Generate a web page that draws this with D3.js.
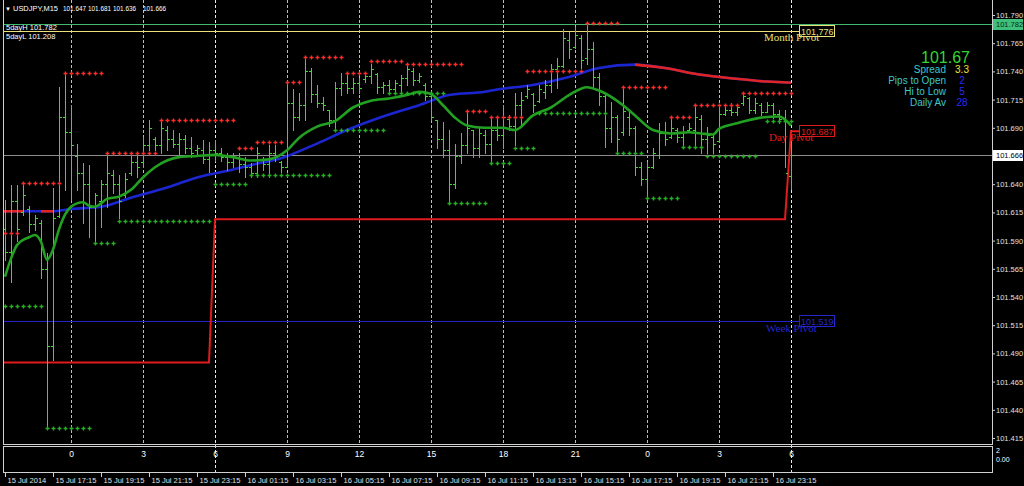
<!DOCTYPE html>
<html><head><meta charset="utf-8"><title>USDJPY M15</title>
<script src="https://cdn.jsdelivr.net/npm/d3@7/dist/d3.min.js"></script>
<style>
html,body{margin:0;padding:0;background:#000;overflow:hidden}
svg{display:block;background:#000}
</style></head><body>
<svg id="chart" width="1024" height="486"></svg>
<script>
// ================= DATA =================
const symbol = "USDJPY,M15";
const firstBarTime = "2014-07-15 15:15";
const lastBarTime  = "2014-07-17 00:00";

const openP = [
101.600,101.580,101.625,101.615,101.618,101.605,101.606,101.565,101.497,101.612,
101.700,101.686,101.665,101.650,101.640,101.620,101.625,101.640,101.648,101.640,
101.630,101.650,101.660,101.660,101.675,101.680,101.675,101.688,101.680,101.676,
101.680,101.672,101.670,101.670,101.662,101.670,101.668,101.664,101.660,101.664,
101.658,101.655,101.650,101.662,101.658,101.668,101.660,101.655,101.712,101.700,
101.710,101.740,101.720,101.712,101.706,101.697,101.725,101.730,101.725,101.730,
101.733,101.736,101.738,101.726,101.728,101.724,101.728,101.734,101.740,101.732,
101.728,101.718,101.697,101.680,101.670,101.640,101.665,101.675,101.688,101.672,
101.684,101.676,101.688,101.684,101.698,101.692,101.710,101.718,101.720,101.714,
101.722,101.728,101.742,101.745,101.768,101.762,101.770,101.752,101.760,101.735,
101.718,101.690,101.700,101.686,101.700,101.690,101.655,101.645,101.655,101.666,
101.685,101.682,101.688,101.682,101.688,101.688,101.698,101.680,101.682,101.678,
101.702,101.706,101.704,101.712,101.716,101.706,101.710,101.704,101.710,101.702,
101.698,101.647];
const highP = [
101.626,101.639,101.639,101.640,101.621,101.613,101.608,101.579,101.637,101.726,
101.737,101.710,101.676,101.659,101.657,101.632,101.644,101.666,101.653,101.648,
101.650,101.666,101.668,101.682,101.697,101.682,101.695,101.692,101.688,101.685,
101.684,101.682,101.675,101.679,101.677,101.679,101.672,101.668,101.668,101.668,
101.664,101.659,101.673,101.664,101.675,101.675,101.661,101.730,101.724,101.721,
101.752,101.743,101.728,101.717,101.706,101.731,101.739,101.739,101.734,101.734,
101.739,101.747,101.739,101.731,101.732,101.732,101.737,101.747,101.743,101.739,
101.730,101.719,101.697,101.695,101.688,101.676,101.685,101.704,101.688,101.691,
101.688,101.700,101.700,101.710,101.701,101.721,101.722,101.728,101.721,101.728,
101.732,101.747,101.752,101.778,101.775,101.779,101.772,101.781,101.766,101.739,
101.719,101.713,101.701,101.725,101.704,101.692,101.660,101.660,101.672,101.694,
101.695,101.699,101.690,101.692,101.694,101.708,101.701,101.691,101.685,101.710,
101.708,101.712,101.710,101.721,101.717,101.716,101.712,101.713,101.712,101.706,
101.706,101.681];
const lowP = [
101.573,101.553,101.590,101.613,101.598,101.599,101.557,101.424,101.484,101.611,
101.635,101.626,101.635,101.606,101.593,101.589,101.602,101.620,101.632,101.610,
101.629,101.648,101.646,101.655,101.670,101.670,101.668,101.670,101.673,101.666,
101.668,101.664,101.666,101.659,101.651,101.661,101.661,101.653,101.655,101.651,
101.646,101.646,101.646,101.653,101.646,101.661,101.651,101.655,101.688,101.697,
101.697,101.713,101.708,101.706,101.692,101.688,101.719,101.721,101.721,101.721,
101.731,101.730,101.721,101.721,101.721,101.721,101.721,101.728,101.728,101.731,
101.715,101.697,101.672,101.664,101.623,101.637,101.659,101.668,101.664,101.664,
101.668,101.659,101.679,101.672,101.688,101.675,101.692,101.716,101.704,101.713,
101.716,101.722,101.725,101.744,101.752,101.761,101.743,101.747,101.725,101.710,
101.673,101.677,101.668,101.684,101.684,101.648,101.639,101.628,101.654,101.663,
101.675,101.681,101.677,101.675,101.686,101.675,101.668,101.668,101.668,101.677,
101.701,101.701,101.701,101.710,101.703,101.703,101.701,101.704,101.699,101.694,
101.655,101.636];
const closeP = [
101.580,101.625,101.600,101.630,101.605,101.610,101.565,101.497,101.610,101.700,
101.686,101.675,101.650,101.640,101.620,101.630,101.640,101.650,101.640,101.625,
101.645,101.660,101.655,101.675,101.690,101.675,101.690,101.680,101.676,101.680,
101.672,101.668,101.672,101.662,101.670,101.668,101.664,101.660,101.664,101.658,
101.655,101.650,101.668,101.658,101.668,101.664,101.655,101.712,101.700,101.710,
101.740,101.720,101.712,101.710,101.697,101.725,101.730,101.725,101.730,101.725,
101.736,101.742,101.726,101.728,101.724,101.730,101.734,101.742,101.732,101.736,
101.718,101.700,101.680,101.670,101.640,101.665,101.675,101.690,101.672,101.685,
101.676,101.688,101.684,101.700,101.692,101.710,101.715,101.724,101.710,101.724,
101.728,101.742,101.745,101.770,101.760,101.772,101.750,101.760,101.735,101.718,
101.690,101.700,101.680,101.705,101.690,101.655,101.645,101.655,101.668,101.685,
101.680,101.690,101.682,101.686,101.690,101.700,101.680,101.684,101.676,101.702,
101.706,101.704,101.708,101.718,101.706,101.712,101.704,101.710,101.702,101.698,
101.650,101.666];

// resistance (red +) and support (green +) levels: bar index ranges
const resFrom  = [0,3,10,17,26,39,42,47,50,57,61,67,77,81,87,97,103,111,115,123];
const resTo    = [2,9,16,25,38,41,46,49,56,60,66,76,80,86,96,102,110,114,122,131];
const resLevel = [101.597,101.641,101.739,101.668,101.697,101.672,101.677,101.731,101.753,101.739,
                  101.749,101.747,101.705,101.700,101.740,101.783,101.726,101.700,101.710,101.721];
const supFrom  = [0,7,15,19,35,41,55,64,74,81,85,89,102,107,113,117,127];
const supTo    = [6,14,18,34,40,54,63,73,80,84,88,100,106,112,116,125,131];
const supLevel = [101.532,101.424,101.588,101.607,101.640,101.648,101.688,101.721,101.623,101.659,
                  101.672,101.703,101.668,101.628,101.673,101.665,101.696];

// fast MA (green) read at bar indices
const smaIdx = [0,1,2,4,5,6,7,8,9,10,11,12,13,14,15,16,17,19,21,23,25,27,29,32,35,38,41,44,47,49,52,55,58,61,64,67,69,71,73,75,77,80,83,85,88,91,94,97,99,103,105,108,111,114,116,118,119,122,126,129,131];
const smaVal = [101.558,101.574,101.586,101.593,101.595,101.589,101.573,101.582,101.600,101.613,101.620,101.623,101.624,101.621,101.620,101.623,101.627,101.629,101.635,101.646,101.655,101.661,101.664,101.665,101.666,101.664,101.661,101.662,101.670,101.681,101.691,101.696,101.708,101.714,101.716,101.719,101.722,101.720,101.710,101.699,101.692,101.690,101.690,101.688,101.701,101.708,101.719,101.726,101.723,101.710,101.701,101.688,101.685,101.686,101.685,101.684,101.689,101.694,101.699,101.700,101.692];

// slow MA (blue rising / red falling) read at bar indices
const maIdx = [0,3,6,8,11,16,21,27,32,38,41,46,52,57,63,69,74,80,82,88,94,99,105,110,116,121,127,131];
const maVal = [101.616,101.616,101.616,101.616,101.618,101.620,101.628,101.637,101.646,101.653,101.657,101.663,101.676,101.688,101.700,101.710,101.719,101.722,101.724,101.728,101.735,101.743,101.746,101.743,101.737,101.734,101.731,101.730];
const maDownFrom = [0,6,105];
const maDownTo   = [3,8,131];

// day pivot per day (bar index ranges)
const dayFrom = [0,35,131];
const dayTo   = [34,130,131];
const dayPivot = [101.482,101.609,101.687];
const monthPivot = 101.776;
const weekPivot  = 101.519;
const fiveDayH = 101.782;
const fiveDayL = 101.208;

// price axis ticks
const priceTicks = [101.790,101.765,101.740,101.715,101.690,101.640,101.615,101.590,101.565,101.540,101.515,101.490,101.465,101.440,101.415];

// hour marks (indicator sub-window) and their labels
const hourMarks = ["2014-07-15 18:00","2014-07-15 21:00","2014-07-16 00:00","2014-07-16 03:00","2014-07-16 06:00","2014-07-16 09:00","2014-07-16 12:00","2014-07-16 15:00","2014-07-16 18:00","2014-07-16 21:00","2014-07-17 00:00"];
const hourLabels = ["0","3","6","9","12","15","18","21","0","3","6"];
const daySeparators = ["2014-07-16 00:00","2014-07-17 00:00"];

// time axis labels
const timeTicks = ["2014-07-15 15:15","2014-07-15 17:15","2014-07-15 19:15","2014-07-15 21:15","2014-07-15 23:15",
 "2014-07-16 01:15","2014-07-16 03:15","2014-07-16 05:15","2014-07-16 07:15","2014-07-16 09:15","2014-07-16 11:15",
 "2014-07-16 13:15","2014-07-16 15:15","2014-07-16 17:15","2014-07-16 19:15","2014-07-16 21:15","2014-07-16 23:15"];

// info panel
const infoLabels = ["Spread","Pips to Open","Hi to Low","Daily Av"];
const infoValues = ["3.3","2","5","28"];
const infoColors = ["#e8e23a","#2a2aff","#2a2aff","#2a2aff"];

// ================= DRAW =================
const parse = d3.timeParse("%Y-%m-%d %H:%M");
const t0 = parse(firstBarTime), t1 = parse(lastBarTime);
const n = closeP.length;
const barTime = d3.range(n).map(i => d3.timeMinute.offset(t0, 15*i));

const x = d3.scaleTime().domain([t0, t1]).range([5, 791]);
const y = d3.scaleLinear().domain([101.415, 101.790]).range([438, 15]);
const xi = i => Math.round(x(barTime[i]));
const F = '"Liberation Sans", Arial, sans-serif';
const SERIF = '"Liberation Serif","Times New Roman",serif';

const svg = d3.select("#chart");
svg.append("defs").append("clipPath").attr("id","clipMain")
  .append("rect").attr("x",4).attr("y",0).attr("width",988).attr("height",444);

// vertical dashed hour lines
const gGrid = svg.append("g");
hourMarks.forEach(s => {
  const xx = Math.round(x(parse(s))) + 0.5;
  const isDay = daySeparators.includes(s);
  gGrid.append("line").attr("x1",xx).attr("x2",xx).attr("y1",0).attr("y2", isDay ? 473 : 444)
    .attr("stroke", isDay ? "#e8e8e8" : "#bdbdbd").attr("stroke-width",1).attr("stroke-dasharray","3,2");
});

const g = svg.append("g").attr("clip-path","url(#clipMain)");

// horizontal levels
const hline = (v, col, x1, x2, w) => g.append("line")
  .attr("x1",x1).attr("x2",x2).attr("y1",Math.round(y(v))+0.5).attr("y2",Math.round(y(v))+0.5)
  .attr("stroke",col).attr("stroke-width",w||1);
hline(closeP[n-1], "#8c8c8c", 4, 992);
hline(fiveDayH, "#45b870", 4, 992);
hline(monthPivot, "#ece07a", 4, 799);
hline(weekPivot, "#2222c8", 4, 799);

// day pivot step line
const dayPts = [];
dayFrom.forEach((f,k) => { for (let i=f;i<=dayTo[k];i++) dayPts.push([xi(i), y(dayPivot[k])]); });
dayPts.unshift([3, y(dayPivot[0])]);
dayPts.push([799, y(dayPivot[dayPivot.length-1])]);
g.append("path").attr("d", d3.line()(dayPts)).attr("fill","none").attr("stroke","#e01b1b").attr("stroke-width",2);

// slow MA (blue/red)
const maPts = maIdx.map((i,k)=>[xi(i), y(maVal[k])]);
maPts[0][0] = 3;
const maLine = d3.line().curve(d3.curveMonotoneX);
g.append("path").attr("d", maLine(maPts)).attr("fill","none").attr("stroke","#1c26d0").attr("stroke-width",2.6);
maDownFrom.forEach((f,k)=>{
  const pts = maIdx.map((i,j)=>[i,j]).filter(([i])=>i>=f && i<=maDownTo[k]).map(([i,j])=>[j===0?3:xi(i), y(maVal[j])]);
  g.append("path").attr("d", maLine(pts)).attr("fill","none").attr("stroke","#e02424").attr("stroke-width",2.6);
});

// OHLC bars
const gb = g.append("g").attr("stroke","#3fd82c").attr("stroke-width",1).attr("fill","none").attr("shape-rendering","crispEdges");
for (let i=0;i<n;i++){
  const xx = xi(i)+0.5;
  const yo = Math.round(y(openP[i]))+0.5, yc = Math.round(y(closeP[i]))+0.5;
  gb.append("path").attr("d",
    `M${xx},${Math.round(y(highP[i]))}V${Math.round(y(lowP[i]))+1}M${xx-2.5},${yo}H${xx}M${xx},${yc}H${xx+2.5}`);
}

// fast MA (green)
const smaPts = smaIdx.map((i,k)=>[xi(i), y(smaVal[k])]);
g.append("path").attr("d", d3.line().curve(d3.curveMonotoneX)(smaPts)).attr("fill","none")
  .attr("stroke","#22a022").attr("stroke-width",2.6);

// plus markers
const plus = (gp, xx, yy) => gp.append("path")
  .attr("d", `M${xx-1.5},${yy+0.5}H${xx+2.5}M${xx+0.5},${yy-1.5}V${yy+2.5}`);
const gr = g.append("g").attr("stroke","#ff2a2a").attr("stroke-width",1.4);
resFrom.forEach((f,k)=>{ for(let i=f;i<=resTo[k];i++) plus(gr, xi(i), Math.round(y(resLevel[k]))); });
const gs = g.append("g").attr("stroke","#22b022").attr("stroke-width",1.4);
supFrom.forEach((f,k)=>{ for(let i=f;i<=supTo[k];i++) plus(gs, xi(i), Math.round(y(supLevel[k]))); });

// pivot labels and boxes
const pivotLabel = (v, name, col, tx, dy) => {
  const yy = y(v);
  g.append("text").attr("x",tx).attr("y",yy+dy).attr("fill",col)
    .style("font-family",SERIF).style("font-size","11px").text(name);
  g.append("rect").attr("x",799.5).attr("y",Math.round(yy)-5.5).attr("width",35).attr("height",11)
    .attr("fill","none").attr("stroke",col).attr("stroke-width",1);
  g.append("text").attr("x",801).attr("y",Math.round(yy)+3.5).attr("fill",col)
    .style("font-family",F).style("font-size","9px").text(d3.format(".3f")(v));
};
pivotLabel(monthPivot, "Month Pivot", "#ece07a", 764, 10);
pivotLabel(dayPivot[dayPivot.length-1], "Day Pivot", "#e01b1b", 769, 10);
pivotLabel(weekPivot, "Week Pivot", "#2626cc", 766, 11);

// header text
const f3 = d3.format(".3f");
const hdr = svg.append("g").attr("fill","#ffffff").style("font-family",F).style("font-size","7.5px");
hdr.append("text").attr("x",5).attr("y",11).style("font-size","6px").text("▼");
hdr.append("text").attr("x",13).attr("y",11).attr("textLength",45).attr("lengthAdjust","spacingAndGlyphs").text(symbol);
[[63,openP[n-1]],[88,highP[n-1]],[113,lowP[n-1]],[143,closeP[n-1]]].forEach(([xx,v])=>
  hdr.append("text").attr("x",xx).attr("y",11).attr("textLength",23).attr("lengthAdjust","spacingAndGlyphs").text(f3(v)));
hdr.append("text").attr("x",6).attr("y",30).text("5dayH " + f3(fiveDayH));
hdr.append("text").attr("x",6).attr("y",39).text("5dayL " + f3(fiveDayL));

// info panel
const info = svg.append("g").style("font-family",F);
info.append("text").attr("x",970).attr("y",63).attr("text-anchor","end").attr("fill","#33d633")
  .style("font-size","16px").text(d3.format(".2f")(closeP[n-1]));
infoLabels.forEach((lab,k)=>{
  const yy = 73 + k*11;
  info.append("text").attr("x",946).attr("y",yy).attr("text-anchor","end").attr("fill","#3cc8cc")
    .style("font-size","10px").text(lab);
  info.append("text").attr("x",962).attr("y",yy).attr("text-anchor","middle").attr("fill",infoColors[k])
    .style("font-size","10px").text(infoValues[k]);
});

// frames
svg.append("rect").attr("x",3.5).attr("y",-1).attr("width",989).attr("height",445.5)
  .attr("fill","none").attr("stroke","#d0d0d0");
svg.append("rect").attr("x",3.5).attr("y",446.5).attr("width",989).attr("height",26)
  .attr("fill","none").attr("stroke","#d0d0d0");

// price axis
const ya = svg.append("g").attr("transform","translate(992,0)")
  .call(d3.axisRight(y).tickValues(priceTicks).tickSize(3).tickPadding(1).tickFormat(f3));
ya.select(".domain").remove();
ya.selectAll("line").attr("stroke","#d0d0d0");
ya.selectAll("text").attr("fill","#e0e0e0").style("font-family",F).style("font-size","7.5px");

// highlighted price labels
const tag = (v, bg, fg) => {
  const yy = Math.round(y(v));
  svg.append("rect").attr("x",993).attr("y",yy-5).attr("width",30).attr("height",11).attr("fill",bg);
  svg.append("text").attr("x",996).attr("y",yy+3).attr("fill",fg).style("font-family",F)
    .style("font-size","7.5px").text(f3(v));
};
tag(fiveDayH, "#3ec07a", "#0a2a10");
tag(closeP[n-1], "#ffffff", "#000000");

// sub-window labels
const sub = svg.append("g").attr("fill","#ffffff").style("font-family",F).style("font-size","8.5px");
hourMarks.forEach((s,k)=>{
  sub.append("text").attr("x",Math.round(x(parse(s)))+0.5).attr("y",457).attr("text-anchor","middle").text(hourLabels[k]);
});
sub.append("text").attr("x",996).attr("y",453).style("font-size","7px").text("2");
sub.append("text").attr("x",996).attr("y",462).style("font-size","7px").text("0.00");

// time axis
const fmtT = d3.timeFormat("%d %b %H:%M");
const xa = svg.append("g").attr("transform","translate(0,473)")
  .call(d3.axisBottom(x).tickValues(timeTicks.map(parse)).tickSize(4)
    .tickFormat((d,k)=> k===0 ? d3.timeFormat("%d %b %Y")(d) : fmtT(d)));
xa.select(".domain").remove();
xa.selectAll(".tick line").attr("stroke","#d0d0d0");
xa.selectAll(".tick text").attr("text-anchor","start").attr("x",2).attr("y",5).attr("dy","0.71em")
  .attr("fill","#e0e0e0").style("font-family",F).style("font-size","7.5px");
</script>
</body></html>
